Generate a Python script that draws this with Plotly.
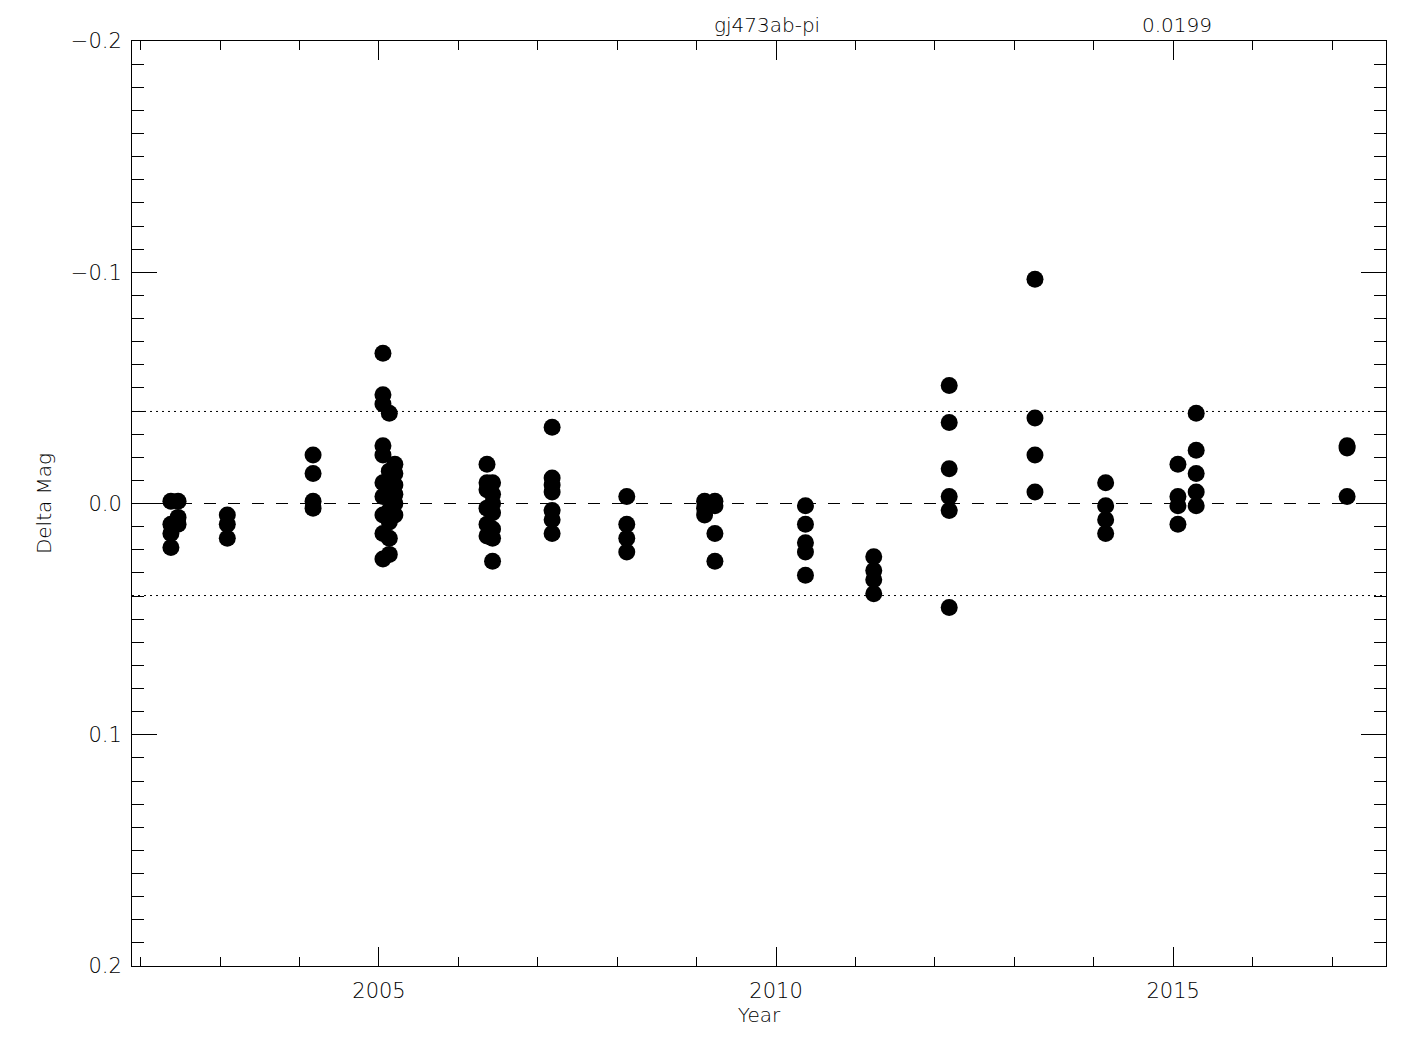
import plotly.graph_objects as go

# ---- data ----
years = [
    2002.38, 2002.38, 2002.38, 2002.38,
    2002.47, 2002.47, 2002.47,
    2003.09, 2003.09, 2003.09,
    2004.17, 2004.17, 2004.17, 2004.17,
    2005.05, 2005.05, 2005.05, 2005.05, 2005.05, 2005.05, 2005.05, 2005.05, 2005.05, 2005.05,
    2005.13, 2005.13, 2005.13, 2005.13, 2005.13, 2005.13, 2005.13,
    2005.20, 2005.20, 2005.20, 2005.20, 2005.20, 2005.20,
    2006.36, 2006.36, 2006.36, 2006.36, 2006.36, 2006.36,
    2006.43, 2006.43, 2006.43, 2006.43, 2006.43, 2006.43, 2006.43,
    2007.18, 2007.18, 2007.18, 2007.18, 2007.18, 2007.18, 2007.18,
    2008.12, 2008.12, 2008.12, 2008.12,
    2009.10, 2009.10, 2009.10,
    2009.23, 2009.23, 2009.23, 2009.23,
    2010.37, 2010.37, 2010.37, 2010.37, 2010.37,
    2011.23, 2011.23, 2011.23, 2011.23,
    2012.18, 2012.18, 2012.18, 2012.18, 2012.18, 2012.18,
    2013.26, 2013.26, 2013.26, 2013.26,
    2014.15, 2014.15, 2014.15, 2014.15,
    2015.06, 2015.06, 2015.06, 2015.06,
    2015.29, 2015.29, 2015.29, 2015.29, 2015.29,
    2017.19, 2017.19, 2017.19,
]
delta_mag = [
    -0.001, 0.009, 0.013, 0.019,
    -0.001, 0.006, 0.009,
    0.005, 0.009, 0.015,
    -0.021, -0.013, -0.001, 0.002,
    -0.065, -0.047, -0.043, -0.025, -0.021, -0.009, -0.003, 0.005, 0.013, 0.024,
    -0.039, -0.014, -0.004, 0.003, 0.008, 0.015, 0.022,
    -0.017, -0.013, -0.008, -0.004, 0.000, 0.005,
    -0.017, -0.009, -0.006, 0.002, 0.009, 0.014,
    -0.009, -0.004, 0.000, 0.004, 0.011, 0.015, 0.025,
    -0.033, -0.011, -0.008, -0.005, 0.003, 0.007, 0.013,
    -0.003, 0.009, 0.015, 0.021,
    -0.001, 0.002, 0.005,
    -0.001, 0.001, 0.013, 0.025,
    0.001, 0.009, 0.017, 0.021, 0.031,
    0.023, 0.029, 0.033, 0.039,
    -0.051, -0.035, -0.015, -0.003, 0.003, 0.045,
    -0.097, -0.037, -0.021, -0.005,
    -0.009, 0.001, 0.007, 0.013,
    -0.017, -0.003, 0.001, 0.009,
    -0.039, -0.023, -0.013, -0.005, 0.001,
    -0.025, -0.024, -0.003,
]
sigma = 0.0199
star_name = "gj473ab-pi"

x_range = [2001.89, 2017.68]
y_range = [0.2, -0.2]
x_ticks = [2005, 2010, 2015]
y_ticks = [-0.2, -0.1, 0.0, 0.1, 0.2]

FONT = "DejaVu Sans"
TXT = dict(family=FONT, color="black", weight=200)

fig = go.Figure()
fig.add_trace(go.Scatter(
    x=years, y=delta_mag, mode="markers",
    marker=dict(color="black", size=17, line=dict(width=0)),
    showlegend=False, hoverinfo="x+y",
))

# reference lines: zero (dashed) and +/- 2 sigma (dotted)
fig.add_shape(type="line", xref="paper", x0=0, x1=1, yref="y", y0=0, y1=0,
              line=dict(color="black", width=1, dash="12px,12px"))
for s in (-2 * sigma, 2 * sigma):
    fig.add_shape(type="line", xref="paper", x0=0, x1=1, yref="y", y0=s, y1=s,
                  line=dict(color="black", width=1, dash="2px,4px"))

fig.add_annotation(text=star_name, xref="paper", yref="paper", x=0.5066, y=1.0176,
                   xanchor="center", yanchor="middle", showarrow=False,
                   font=dict(size=20, **TXT))
fig.add_annotation(text=f"{sigma:.4f}", xref="paper", yref="paper", x=0.8336, y=1.0176,
                   xanchor="center", yanchor="middle", showarrow=False,
                   font=dict(size=20, **TXT))

fig.update_layout(
    width=1417, height=1042,
    margin=dict(l=124, r=39, t=33, b=84, autoexpand=False),
    paper_bgcolor="white", plot_bgcolor="white",
    font=dict(size=20, **TXT),
)
fig.update_xaxes(
    range=x_range, tickvals=x_ticks, ticktext=[str(v) for v in x_ticks],
    ticks="inside", ticklen=19, tickwidth=1, tickcolor="black",
    showline=True, linecolor="black", linewidth=1, mirror="allticks",
    showgrid=False, zeroline=False,
    minor=dict(ticks="inside", dtick=1, tick0=2002, ticklen=9, tickwidth=1,
               tickcolor="black", showgrid=False),
    tickfont=dict(size=21, **TXT), ticklabelstandoff=6,
    title=dict(text="Year", font=dict(size=20, **TXT), standoff=3),
)
fig.update_yaxes(
    range=y_range, tickvals=y_ticks, tickformat=".1f",
    ticks="inside", ticklen=25, tickwidth=1, tickcolor="black",
    showline=True, linecolor="black", linewidth=1, mirror="allticks",
    showgrid=False, zeroline=False,
    minor=dict(ticks="inside", dtick=0.01, tick0=0, ticklen=12, tickwidth=1,
               tickcolor="black", showgrid=False),
    tickfont=dict(size=21, **TXT), ticklabelstandoff=5,
    title=dict(text="Delta Mag", font=dict(size=20, **TXT), standoff=13),
)

fig.write_html("out.html")
